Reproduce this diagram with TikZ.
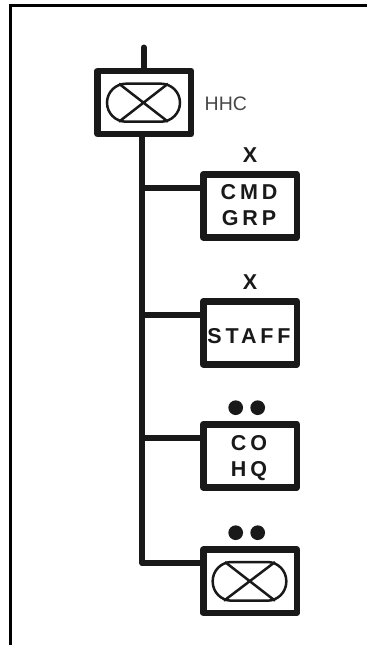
\documentclass[tikz,border=0pt]{standalone}
\usepackage{fontspec}
\setmainfont{Liberation Sans}
\newfontfamily\spaced[LetterSpace=18]{Liberation Sans}
\colorlet{ink}{black!90}
\newcommand{\lbl}[2]{\raisebox{#1}[\height][\depth]{\spaced #2\kern2pt}}
\tikzset{
  x=1pt,y=-1pt,
  unitbox/.style={draw=ink,line width=6.5pt,line join=round,minimum width=93.5pt,minimum height=63.1pt,inner sep=0pt,outer sep=0pt,align=center,font=\bfseries\fontsize{21.5}{26}\selectfont,text=ink,fill=white},
  wire/.style={draw=ink,line width=6pt,line cap=round,line join=round},
  capsule/.style={draw=ink,line width=2.5pt,rounded corners=19pt},
  cross/.style={draw=ink,line width=2.5pt},
  echelon/.style={font=\bfseries\fontsize{21.5}{21}\selectfont,inner sep=0pt,text=ink},
  dotmark/.style={circle,fill=ink,minimum size=14.7pt,inner sep=0pt,outer sep=0pt}
}
\begin{document}
\begin{tikzpicture}
\useasboundingbox (0,0) rectangle (367,645);
\fill[white] (0,0) rectangle (367,645);
\draw[line width=3pt,black] (10,645) -- (10,5.5) -- (367,5.5);
\coordinate (stem) at (143.7,47.5);
\coordinate (trunk) at (142.3,134);
\coordinate (j1) at (142.3,188.3);
\coordinate (j2) at (142.3,315);
\coordinate (j3) at (142.3,438.3);
\coordinate (j4) at (142.3,563.3);
\node[unitbox] (hhc) at (144.3,102.5) {};
\node[unitbox] (cmd) at (250,205.8) {\lbl{0.3pt}{CMD}\\\lbl{0.3pt}{GRP}};
\node[unitbox] (staff) at (250,332.8) {\lbl{-3.5pt}{STAFF}};
\node[unitbox] (co) at (250,455.8) {\lbl{-2.2pt}{CO}\\\lbl{-2.2pt}{HQ}};
\node[unitbox] (bot) at (250,581.2) {};
\draw[wire] (stem) -- (stem |- hhc.north);
\draw[wire] (trunk |- hhc.south) -- (j4) -- (j4 -| bot.west);
\draw[wire] (j1) -- (j1 -| cmd.west);
\draw[wire] (j2) -- (j2 -| staff.west);
\draw[wire] (j3) -- (j3 -| co.west);
\draw[capsule] (107,83.7) rectangle (180,121.7);
\draw[cross] (119,83.7) -- (168,121.7) (168,83.7) -- (119,121.7);
\draw[capsule] (212.7,562) rectangle (286.3,600.7);
\draw[cross] (225,562) -- (275,600.7) (275,562) -- (224,600.7);
\node[font=\fontsize{19.5}{20}\selectfont,text=black!72,anchor=west,inner sep=0pt] (lab) at (204.5,103.7) {HHC};
\node[echelon] (x1) at (250,155) {X};
\node[echelon] (x2) at (250,282.5) {X};
\node[dotmark] (d1) at (235.7,407.7) {};
\node[dotmark] (d2) at (257.7,407.7) {};
\node[dotmark] (d3) at (235.7,532.7) {};
\node[dotmark] (d4) at (257.7,532.7) {};
\end{tikzpicture}
\end{document}
